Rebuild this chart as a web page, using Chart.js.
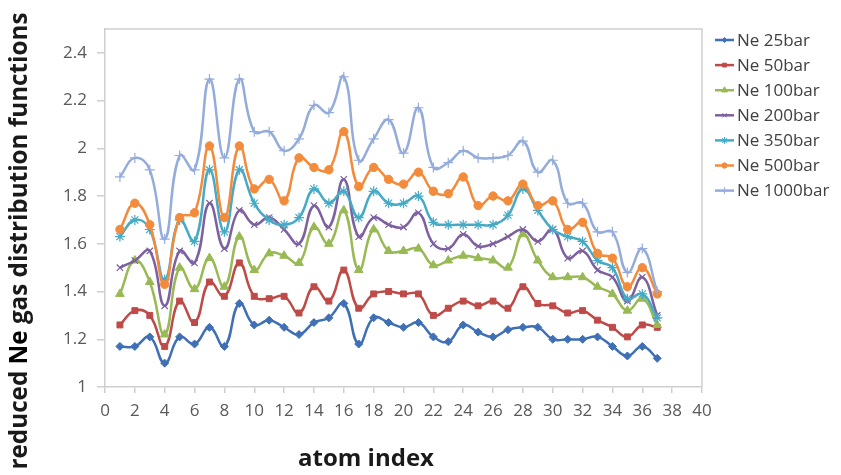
<!DOCTYPE html>
<html>
<head>
<meta charset="utf-8">
<script src="https://cdn.jsdelivr.net/npm/chart.js@4/dist/chart.umd.min.js"></script>
<style>
html,body{margin:0;padding:0;background:#fff;}
#wrap{width:841px;height:475px;position:relative;}
</style>
</head>
<body>
<div id="wrap"><canvas id="c" width="841" height="475"></canvas></div>
<script>
// ---- data ----
const atomIndex = [1,2,3,4,5,6,7,8,9,10,11,12,13,14,15,16,17,18,19,20,21,22,23,24,25,26,27,28,29,30,31,32,33,34,35,36,37];
const seriesLabels = ['Ne 25bar','Ne 50bar','Ne 100bar','Ne 200bar','Ne 350bar','Ne 500bar','Ne 1000bar'];
const ne25 = [1.17,1.17,1.21,1.10,1.21,1.18,1.25,1.17,1.35,1.26,1.28,1.25,1.22,1.27,1.29,1.35,1.18,1.29,1.27,1.25,1.27,1.21,1.19,1.26,1.23,1.21,1.24,1.25,1.25,1.20,1.20,1.20,1.21,1.17,1.13,1.17,1.12];
const ne50 = [1.26,1.32,1.30,1.17,1.36,1.27,1.44,1.38,1.52,1.38,1.37,1.38,1.31,1.42,1.36,1.49,1.33,1.39,1.40,1.39,1.39,1.30,1.33,1.36,1.34,1.36,1.33,1.42,1.35,1.34,1.31,1.32,1.28,1.25,1.21,1.26,1.25];
const ne100 = [1.39,1.53,1.44,1.22,1.50,1.41,1.54,1.42,1.63,1.49,1.56,1.55,1.52,1.67,1.60,1.74,1.49,1.66,1.57,1.57,1.58,1.51,1.53,1.55,1.54,1.53,1.50,1.64,1.53,1.46,1.46,1.46,1.42,1.39,1.32,1.37,1.26];
const ne200 = [1.50,1.53,1.57,1.34,1.57,1.52,1.77,1.58,1.74,1.68,1.71,1.66,1.60,1.76,1.67,1.87,1.63,1.71,1.68,1.67,1.73,1.60,1.58,1.64,1.59,1.60,1.63,1.66,1.61,1.66,1.54,1.57,1.49,1.46,1.36,1.46,1.30];
const ne350 = [1.63,1.70,1.66,1.45,1.70,1.61,1.91,1.65,1.91,1.77,1.70,1.68,1.71,1.83,1.77,1.82,1.71,1.82,1.77,1.77,1.80,1.69,1.68,1.68,1.68,1.68,1.72,1.83,1.74,1.66,1.63,1.61,1.53,1.50,1.37,1.39,1.29];
const ne500 = [1.66,1.77,1.68,1.43,1.71,1.73,2.01,1.71,2.01,1.83,1.87,1.78,1.96,1.92,1.91,2.07,1.84,1.92,1.87,1.85,1.90,1.82,1.81,1.88,1.76,1.80,1.78,1.85,1.76,1.78,1.66,1.69,1.56,1.54,1.42,1.50,1.39];
const ne1000 = [1.88,1.96,1.91,1.62,1.97,1.91,2.29,1.96,2.29,2.07,2.07,1.99,2.04,2.18,2.15,2.30,1.95,2.04,2.12,1.98,2.17,1.92,1.94,1.99,1.96,1.96,1.97,2.03,1.90,1.95,1.77,1.77,1.65,1.65,1.48,1.58,1.40];
const xTickValues = [0,2,4,6,8,10,12,14,16,18,20,22,24,26,28,30,32,34,36,38,40];
const yTickValues = [1,1.2,1.4,1.6,1.8,2,2.2,2.4];
const yTickLabels = ['1','1.2','1.4','1.6','1.8','2','2.2','2.4'];

// ---- styles ----
const allSeries = [ne25, ne50, ne100, ne200, ne350, ne500, ne1000];
const colors = ['#3F6FB5','#BE4B48','#98B954','#7D60A0','#46AAC5','#F38B3C','#94ACDB'];
const pStyles = ['rectRot','rect','triangle','crossRot','star','circle','cross'];
const pRadius = [4,4.2,5,4.5,5,4.2,5];

const FONT = "'Open Sans', 'Noto Sans', sans-serif";
const AXIS_GRAY = '#cfcfcf';

const datasets = allSeries.map((vals, i) => ({
  label: seriesLabels[i],
  data: atomIndex.map((x, k) => ({x: x, y: vals[k]})),
  borderColor: colors[i],
  backgroundColor: colors[i],
  pointBackgroundColor: colors[i],
  pointBorderColor: colors[i],
  pointStyle: pStyles[i],
  pointRadius: pRadius[i],
  pointBorderWidth: (pStyles[i]==='crossRot'||pStyles[i]==='star'||pStyles[i]==='cross') ? 1.2 : 1,
  borderWidth: 2.5,
  tension: 0.45,
  fill: false,
  order: 7 - i
}));

const framePlugin = {
  id: 'frame',
  beforeDatasetsDraw(chart) {
    const {ctx, chartArea: a} = chart;
    ctx.save();
    ctx.strokeStyle = AXIS_GRAY;
    ctx.lineWidth = 1.5;
    ctx.beginPath();
    ctx.moveTo(a.left, a.top); ctx.lineTo(a.right, a.top); ctx.lineTo(a.right, a.bottom);
    ctx.stroke();
    ctx.restore();
  }
};

const decorPlugin = {
  id: 'decor',
  afterDraw(chart) {
    const ctx = chart.ctx;
    ctx.save();
    // legend
    chart.data.datasets.forEach((ds, i) => {
      const y = 40 + 25.1 * i;
      ctx.strokeStyle = ds.borderColor;
      ctx.lineWidth = 2.5;
      ctx.beginPath(); ctx.moveTo(715, y); ctx.lineTo(734, y); ctx.stroke();
      ctx.fillStyle = ds.borderColor; ctx.strokeStyle = ds.borderColor;
      ctx.lineWidth = 1;
      Chart.helpers.drawPoint(ctx, {pointStyle: ds.pointStyle, radius: Math.max(2.5, ds.pointRadius - 1.5), rotation: 0, borderWidth: 1}, 724.5, y);
      ctx.fillStyle = '#404040';
      ctx.font = "17px " + FONT;
      ctx.textAlign = 'left'; ctx.textBaseline = 'middle';
      ctx.fillText(ds.label, 737, y + 1);
    });
    // x axis title
    ctx.fillStyle = '#1a1a1a';
    ctx.font = "bold 24px " + FONT;
    ctx.textAlign = 'center'; ctx.textBaseline = 'middle';
    ctx.fillText('atom index', 366, 459);
    // y axis title (rotated, "Ne" emphasised)
    const parts = [['reduced ', '#1a1a1a'], ['Ne', '#000000'], [' gas distribution functions', '#1a1a1a']];
    let size = 22;
    ctx.font = "bold " + size + "px " + FONT;
    let w = parts.reduce((s, p) => s + ctx.measureText(p[0]).width, 0);
    size = size * 457 / w;
    ctx.font = "bold " + size.toFixed(2) + "px " + FONT;
    w = parts.reduce((s, p) => s + ctx.measureText(p[0]).width, 0);
    ctx.translate(20, 241);
    ctx.rotate(-Math.PI / 2);
    ctx.textAlign = 'left'; ctx.textBaseline = 'middle';
    let x = -w / 2;
    parts.forEach(p => { ctx.fillStyle = p[1]; ctx.fillText(p[0], x, 0); x += ctx.measureText(p[0]).width; });
    ctx.restore();
  }
};

new Chart(document.getElementById('c'), {
  type: 'line',
  data: { datasets: datasets },
  options: {
    responsive: false,
    animation: false,
    layout: { padding: { left: 0, right: 139, top: 29, bottom: 0 } },
    plugins: { legend: { display: false }, tooltip: { enabled: false }, title: { display: false } },
    scales: {
      x: {
        type: 'linear', min: 0, max: 40,
        afterFit(s) { s.height = 88; },
        afterBuildTicks(s) { s.ticks = xTickValues.map(v => ({value: v})); },
        ticks: { font: { family: FONT, size: 17 }, color: '#595959', padding: 8, maxRotation: 0, autoSkip: false,
                 callback: (v) => String(v) },
        grid: { drawOnChartArea: false, drawTicks: true, tickLength: 6, color: AXIS_GRAY, lineWidth: 1.5 },
        border: { display: true, color: AXIS_GRAY, width: 1.5 }
      },
      y: {
        type: 'linear', min: 1, max: 2.5,
        afterFit(s) { s.width = 105; },
        afterBuildTicks(s) { s.ticks = yTickValues.map(v => ({value: v})); },
        ticks: { font: { family: FONT, size: 17 }, color: '#595959', padding: 10,
                 callback: (v, idx) => yTickLabels[idx] },
        grid: { drawOnChartArea: false, drawTicks: true, tickLength: 8, color: AXIS_GRAY, lineWidth: 1.5 },
        border: { display: true, color: AXIS_GRAY, width: 1.5 }
      }
    }
  },
  plugins: [framePlugin, decorPlugin]
});
</script>
</body>
</html>
